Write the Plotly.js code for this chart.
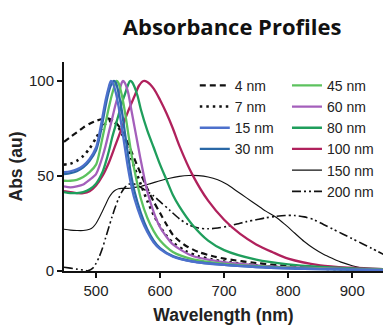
<!DOCTYPE html>
<html>
<head>
<meta charset="utf-8">
<script src="https://cdn.plot.ly/plotly-3.0.1.min.js"></script>
<style>html,body{margin:0;padding:0;background:#fff;}#chart{width:383px;height:325px;}</style>
</head>
<body>
<div id="chart"></div>
<script>
// ---- data (wavelength in nm, absorbance normalised, au) ----
var wl_4nm  = [450,460,470,480,490,500,510,518,525,530,540,550,560,570,580,590,600,610,620,630,640,660,680,700,750,800,850,900,950];
var abs_4nm = [68,70.5,73,75.5,77.5,79,80,80.3,79.5,78.5,74,67,59,51,43.5,36.5,30.5,24.5,19,15.8,13.3,10,8,6.5,4.2,2.6,1.6,1,0.6];

var wl_7nm  = [450,460,470,480,490,500,510,518,525,530,540,550,560,570,580,590,600,610,620,640,660,680,700,750,800,850,900,950];
var abs_7nm = [56,56.5,58,60.5,64.5,70,75.5,78.5,79,78,72.5,64,54.5,45.5,37,29.5,23.5,18.5,15,10.5,7.8,6.2,5,3,1.8,1.2,0.8,0.5];

var wl_15nm  = [450,460,470,480,490,500,505,510,515,520,523,526,530,535,540,545,550,555,560,570,580,590,600,620,650,700,750,800,850,900,950];
var abs_15nm = [52,52.5,53.5,55.5,59,65,72,81,90,97,100,99,95,87,76,65,54,45,38,28,20.5,15,11.5,7.5,5,3.2,2.1,1.4,1,0.7,0.5];

var wl_30nm  = [450,460,470,480,490,500,505,510,515,520,525,528,531,535,540,545,550,555,560,570,580,590,600,620,650,700,750,800,850,900,950];
var abs_30nm = [51,51.5,52.5,54.5,58,63.5,69.5,78,87,94.5,99,100,99,94,85,73,61,50,42,30.5,22,16,12,7.8,5.1,3.2,2.1,1.4,1,0.7,0.5];

var wl_45nm  = [450,460,470,480,490,500,505,510,515,520,525,530,532,535,540,545,550,555,560,570,580,590,600,620,650,700,750,800,850,900,950];
var abs_45nm = [47.5,47.5,48,49.5,52,56,62,70,78,86,93,98.5,100,99,93,84,73,62,53,38,28,21,16,10,6.3,3.8,2.5,1.7,1.2,0.8,0.6];

var wl_60nm  = [450,460,470,480,490,500,505,510,515,520,525,530,535,540,542,545,550,555,560,565,570,580,590,600,610,620,650,700,750,800,850,900,950];
var abs_60nm = [44.5,44,44.5,45.5,48,51,55,60,66,73,80,87,93,99,100,99,94,85,76,67,58,42,31,23,18,14,8,4.6,3,2,1.4,1,0.7];

var wl_80nm  = [450,460,470,480,490,500,510,515,520,525,530,535,540,545,550,553,556,560,565,570,580,590,600,610,620,630,650,675,700,750,800,850,900,950];
var abs_80nm = [41.5,41,41,41.5,43,46,52,57,63,70,76,82,88,93,98,100,99.5,97,92,85,74,65,56,48,40,34,24.5,16,11,6,3.5,2.2,1.4,1];

var wl_100nm  = [450,460,470,480,490,500,510,520,530,540,550,560,567,574,580,590,600,610,620,630,650,675,700,725,750,775,800,850,900,950];
var abs_100nm = [42,41.5,41,41,42,45,50,57,66,75,84,92,97.5,100,99.5,96,90,83,75,66,51,37,27,19.5,14,10,6.5,3,1.7,1];

var wl_150nm  = [450,460,470,480,490,495,500,505,510,515,520,525,530,535,540,550,560,570,580,590,600,615,630,645,660,675,690,705,720,735,750,765,781,795,810,825,840,855,870,885,900,915,930,950];
var abs_150nm = [22,21.5,21.3,21.3,22,23,25,28,31.5,35,38.5,41,42.5,43.3,43.5,43.5,44,44.5,45.5,46.5,47.5,48.8,49.8,50.3,50.2,49.5,48,45.5,42,38.5,35,31.5,28.3,24.5,20,15.5,11.8,8.8,6.5,4.4,2.8,1.6,0.9,0.4];

var wl_200nm  = [450,460,470,480,488,495,500,505,510,515,520,525,530,535,540,545,550,557,565,575,590,600,615,630,645,660,675,690,705,720,735,750,765,780,795,810,825,840,855,870,885,900,915,930,950];
var abs_200nm = [2,1.5,1,0.5,0.2,1.5,4,7.5,12,17.5,23,28.5,33.5,38,41.5,44,45.5,46,45,43,39.5,36.5,32,27.5,24.2,22.6,22.2,22.6,23.5,24.7,26,27,28,28.7,29.2,29.2,28.5,27,24.5,22,19.5,17,14.5,12,8.5];

var seriesNames = ["4 nm","7 nm","15 nm","30 nm","45 nm","60 nm","80 nm","100 nm","150 nm","200 nm"];
var xTickVals = [500,600,700,800,900];
var yTickVals = [0,50,100];

// ---- styling ----
function tr(x, y, name, color, width, dash, legend, rank) {
  return {
    type: 'scatter', mode: 'lines', x: x, y: y, name: name,
    line: {color: color, width: width, dash: dash, shape: 'spline', smoothing: 0.8},
    legend: legend, legendrank: rank, hoverinfo: 'skip'
  };
}

var traces = [
  tr(wl_200nm, abs_200nm, seriesNames[9], '#111111', 1.6, '9px,3px,2px,3px,2px,3px', 'legend2', 10),
  tr(wl_150nm, abs_150nm, seriesNames[8], '#111111', 1.1, 'solid', 'legend2', 9),
  tr(wl_4nm,   abs_4nm,   seriesNames[0], '#111111', 2.2, '6px,4px', 'legend', 1),
  tr(wl_7nm,   abs_7nm,   seriesNames[1], '#111111', 2.6, '2.5px,4px', 'legend', 2),
  tr(wl_100nm, abs_100nm, seriesNames[7], '#b0215c', 2.3, 'solid', 'legend2', 8),
  tr(wl_80nm,  abs_80nm,  seriesNames[6], '#1f9e5c', 2.3, 'solid', 'legend2', 7),
  tr(wl_60nm,  abs_60nm,  seriesNames[5], '#a45fbb', 2.3, 'solid', 'legend2', 6),
  tr(wl_45nm,  abs_45nm,  seriesNames[4], '#5cc25e', 2.3, 'solid', 'legend2', 5),
  tr(wl_30nm,  abs_30nm,  seriesNames[3], '#2a68a6', 2.3, 'solid', 'legend', 4),
  tr(wl_15nm,  abs_15nm,  seriesNames[2], '#4d70cc', 2.3, 'solid', 'legend', 3)
];

var tickFont = {family: 'Liberation Sans, Arial, sans-serif', size: 15, color: '#222'};
var legFont = {family: 'Liberation Sans, Arial, sans-serif', size: 14, color: '#222'};
var axTitleFont = {family: 'Liberation Sans, Arial, sans-serif', size: 17.5, color: '#222'};

var layout = {
  width: 383, height: 325,
  margin: {l: 64, r: 0, t: 62, b: 54, pad: 0},
  paper_bgcolor: '#ffffff', plot_bgcolor: '#ffffff',
  title: {
    text: '<b>Absorbance Profiles</b>',
    font: {family: 'Open Sans, sans-serif', size: 22, color: '#111'},
    x: 0.527, xref: 'paper', xanchor: 'center',
    y: 0.917, yref: 'container', yanchor: 'middle'
  },
  xaxis: {
    range: [450, 948], tickvals: xTickVals, ticktext: xTickVals.map(String),
    showgrid: false, zeroline: false, showline: true, linecolor: '#111', linewidth: 2,
    ticks: 'outside', ticklen: 5, tickwidth: 2, tickcolor: '#111',
    tickfont: tickFont, automargin: false,
    title: {text: '<b>Wavelength (nm)</b>', font: axTitleFont, standoff: 14}
  },
  yaxis: {
    range: [0, 110], tickvals: yTickVals, ticktext: yTickVals.map(String),
    showgrid: false, zeroline: false, showline: true, linecolor: '#111', linewidth: 2,
    ticks: 'outside', ticklen: 5, tickwidth: 2, tickcolor: '#111',
    tickfont: tickFont, automargin: false,
    title: {text: '<b>Abs (au)</b>', font: axTitleFont, standoff: 2}
  },
  showlegend: true,
  legend: {
    x: 0.41, y: 0.963, xanchor: 'left', yanchor: 'top', xref: 'paper', yref: 'paper',
    bgcolor: 'rgba(0,0,0,0)', borderwidth: 0, font: legFont, traceorder: 'normal', tracegroupgap: 0
  },
  legend2: {
    x: 0.699, y: 0.963, xanchor: 'left', yanchor: 'top', xref: 'paper', yref: 'paper',
    bgcolor: 'rgba(0,0,0,0)', borderwidth: 0, font: legFont, traceorder: 'normal', tracegroupgap: 0
  }
};

Plotly.newPlot('chart', traces, layout, {staticPlot: true, displayModeBar: false});
</script>
</body>
</html>
